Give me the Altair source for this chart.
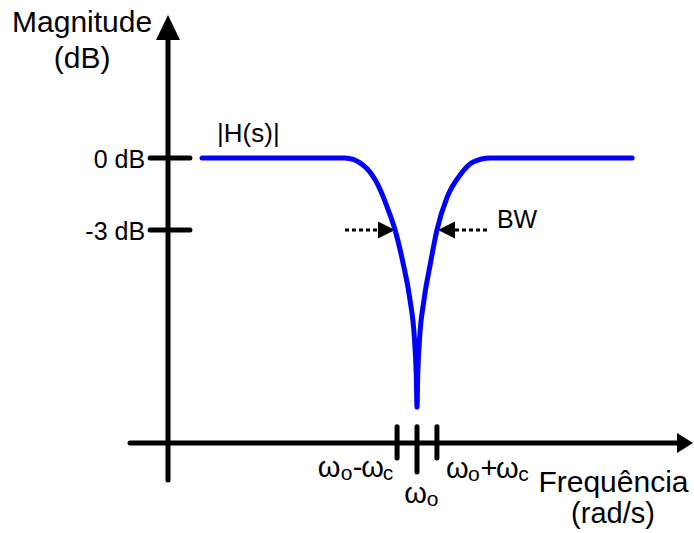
import altair as alt
import pandas as pd

# Notch filter magnitude |H(s)| in dB; frequency is normalised so that w0 = 1
W0 = 1.0
WC = 0.08

freq_left = [0.137, 0.711, 0.783, 0.839, 0.880, 0.912, 0.944, 0.972, 0.990, 0.997, 1.000]
mag_left = [0.0, 0.0, -0.29, -1.04, -2.04, -3.0, -4.38, -5.92, -7.58, -9.04, -10.38]
freq_right = [1.003, 1.010, 1.028, 1.054, 1.080, 1.121, 1.173, 1.225, 1.293, 1.864]
mag_right = [-9.04, -7.58, -5.92, -4.38, -3.0, -1.63, -0.71, -0.17, 0.0, 0.0]

# Magnitude tick values and labels
db_ticks = [0, -3]
db_labels = ["0 dB", "-3 dB"]

# Frequency tick positions
freq_ticks = [W0 - WC, W0, W0 + WC]

# Drawing frame (frequency, dB)
X_MIN, X_MAX = -0.6747, 2.1124
Y_MIN, Y_MAX = -15.625, 6.5833
X_AXIS_DB = -11.875

FONT = "Liberation Sans"
BLUE = "#0000ff"

xs = alt.Scale(domain=[X_MIN, X_MAX], nice=False, zero=False)
ys = alt.Scale(domain=[Y_MIN, Y_MAX], nice=False, zero=False)


def enc_xy(extra=None):
    d = dict(
        x=alt.X("x:Q", scale=xs, axis=None),
        y=alt.Y("y:Q", scale=ys, axis=None),
    )
    if extra:
        d.update(extra)
    return d


# Response curve
curve_df = pd.DataFrame({
    "x": freq_left + freq_right,
    "y": mag_left + mag_right,
})
curve = alt.Chart(curve_df).mark_line(
    color=BLUE, strokeWidth=5, strokeCap="round", strokeJoin="round",
    interpolate="monotone",
).encode(**enc_xy())

# Axis lines and tick marks
segments = pd.DataFrame([
    # vertical axis
    dict(x=0.0, x2=0.0, y=-13.42, y2=5.3),
    # horizontal axis
    dict(x=-0.1526, x2=2.06, y=X_AXIS_DB, y2=X_AXIS_DB),
] + [
    dict(x=-0.072, x2=0.088, y=v, y2=v) for v in db_ticks
] + [
    dict(x=f, x2=f, y=-11.2, y2=(-13.08 if f == W0 else -12.5)) for f in freq_ticks
])
axes = alt.Chart(segments).mark_rule(
    color="black", strokeWidth=5, strokeCap="round",
).encode(**enc_xy(dict(x2="x2:Q", y2="y2:Q")))

# Arrow heads of the axes
up_head = alt.Chart(pd.DataFrame({"x": [0.0], "y": [5.4375]})).mark_point(
    shape="M0,-1L-0.96,1L0.96,1Z", size=625, filled=True, opacity=1,
    color="black", strokeWidth=0,
).encode(**enc_xy())
right_head = alt.Chart(pd.DataFrame({"x": [2.0763], "y": [X_AXIS_DB]})).mark_point(
    shape="M1,0L-1,-1.25L-1,1.25Z", size=256, filled=True, opacity=1,
    color="black", strokeWidth=0,
).encode(**enc_xy())

# Dashed arrows marking the -3 dB bandwidth
dash_df = pd.DataFrame([
    dict(x=0.7108, x2=0.8514, y=-3.0, y2=-3.0),
    dict(x=1.1526, x2=1.2851, y=-3.0, y2=-3.0),
])
dashes = alt.Chart(dash_df).mark_rule(
    color="black", strokeWidth=3, strokeDash=[4, 3],
).encode(**enc_xy(dict(x2="x2:Q", y2="y2:Q")))
bw_right_pointing = alt.Chart(pd.DataFrame({"x": [0.8775], "y": [-3.0]})).mark_point(
    shape="M1,0L-1,-1L-1,1Z", size=289, filled=True, opacity=1,
    color="black", strokeWidth=0,
).encode(**enc_xy())
bw_left_pointing = alt.Chart(pd.DataFrame({"x": [1.1185], "y": [-3.0]})).mark_point(
    shape="M-1,0L1,-1L1,1Z", size=289, filled=True, opacity=1,
    color="black", strokeWidth=0,
).encode(**enc_xy())

# dB tick labels
db_text = alt.Chart(pd.DataFrame({"x": [-0.092] * 2, "y": db_ticks, "t": db_labels})).mark_text(
    font=FONT, fontSize=25, align="right", baseline="middle", dy=2, color="black",
).encode(**enc_xy(dict(text="t:N")))

# Free-standing labels: (text, x, y, size, align)
free_labels = [
    ("Magnitude", -0.345, 5.25, 30, "center"),
    ("(dB)", -0.345, 3.75, 30, "center"),
    ("Frequência", 1.789, -13.9, 30, "center"),
    ("(rad/s)", 1.787, -15.2, 29, "center"),
    ("|H(s)|", 0.197, 0.667, 26, "left"),
    ("BW", 1.321, -2.917, 25, "left"),
]
free_layers = []
for txt, fx, fy, size, align in free_labels:
    free_layers.append(
        alt.Chart(pd.DataFrame({"x": [fx], "y": [fy]})).mark_text(
            text=txt, font=FONT, fontSize=size, align=align,
            baseline="alphabetic", color="black",
        ).encode(**enc_xy())
    )

# Frequency tick labels built from a main glyph and subscripts:
# (text, tick anchor, baseline dB, dx, is_subscript)
tick_pieces = [
    ("ω", W0 - WC, -13.29, -68, False),
    ("o", W0 - WC, -13.29, -50.5, True),
    ("-", W0 - WC, -13.29, -39.5, False),
    ("ω", W0 - WC, -13.29, -24.5, False),
    ("c", W0 - WC, -13.29, -9, True),
    ("ω", W0, -14.375, -1.5, False),
    ("o", W0, -14.375, 15.5, True),
    ("ω", W0 + WC, -13.33, 20.5, False),
    ("o", W0 + WC, -13.33, 37, True),
    ("+", W0 + WC, -13.33, 52, False),
    ("ω", W0 + WC, -13.33, 70.5, False),
    ("c", W0 + WC, -13.33, 86.5, True),
]
tick_layers = []
for txt, fx, fy, dx, sub in tick_pieces:
    tick_layers.append(
        alt.Chart(pd.DataFrame({"x": [fx], "y": [fy]})).mark_text(
            text=txt, font=FONT, fontSize=(21 if sub else 29), align="center",
            baseline="alphabetic", dx=dx, dy=(3 if sub else 0), color="black",
        ).encode(**enc_xy())
    )

chart = alt.layer(
    axes, up_head, right_head, dashes, bw_right_pointing, bw_left_pointing,
    curve, db_text, *free_layers, *tick_layers,
).properties(
    width=694, height=533, padding=0,
    autosize=alt.AutoSizeParams(type="none"),
    background="white",
).configure_view(stroke=None)

chart.save("out.html", embed_options={"renderer": "svg", "actions": False})
